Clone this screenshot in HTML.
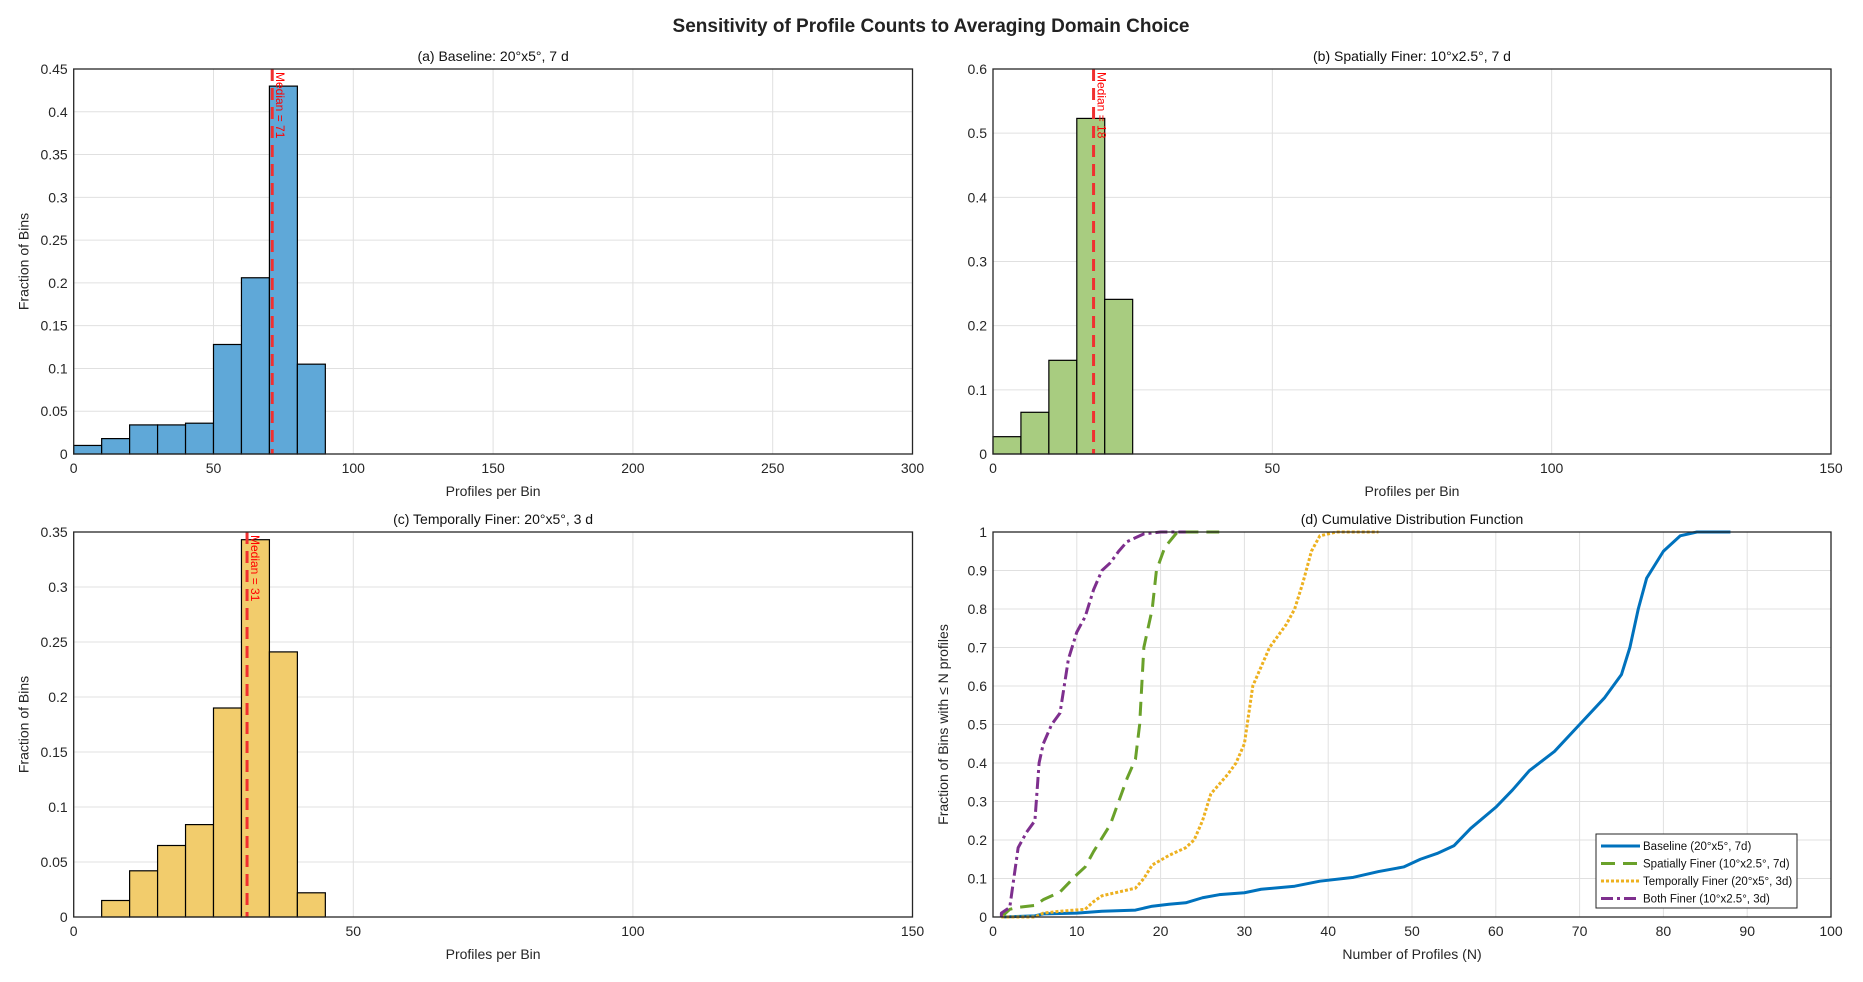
<!DOCTYPE html>
<html><head><meta charset="utf-8"><style>
body{margin:0;background:#fff;}
svg{display:block;font-family:"Liberation Sans",sans-serif;}
</style></head><body>
<svg id="chart" width="1863" height="982" viewBox="0 0 1863 982">
<text x="931" y="32" text-anchor="middle" font-size="19" font-weight="bold" fill="#222">Sensitivity of Profile Counts to Averaging Domain Choice</text>
</svg>
<script>
const aCounts=[0.010,0.018,0.034,0.034,0.036,0.128,0.206,0.430,0.105];
const aEdgeStart=0, aWidth=10, aMedian=71;
const bCounts=[0.027,0.065,0.146,0.523,0.241];
const bEdgeStart=0, bWidth=5, bMedian=18;
const cCounts=[0.015,0.042,0.065,0.084,0.190,0.343,0.241,0.022];
const cEdgeStart=5, cWidth=5, cMedian=31;
const aYTicks=[0,0.05,0.1,0.15,0.2,0.25,0.3,0.35,0.4,0.45];
const bYTicks=[0,0.1,0.2,0.3,0.4,0.5,0.6];
const cYTicks=[0,0.05,0.1,0.15,0.2,0.25,0.3,0.35];
const dYTicks=[0,0.1,0.2,0.3,0.4,0.5,0.6,0.7,0.8,0.9,1];
const aXTicks=[0,50,100,150,200,250,300];
const bXTicks=[0,50,100,150];
const dXTicks=[0,10,20,30,40,50,60,70,80,90,100];
const baseN=[1,5,6,10,13,17,19,21,23,25,27,30,32,36,39,43,46,49,51,53,55,57,60,62,64,67,70,73,75,76,77,78,80,82,84,88];
const baseF=[0,0.003,0.008,0.01,0.015,0.018,0.028,0.033,0.037,0.05,0.058,0.063,0.072,0.08,0.093,0.103,0.118,0.13,0.15,0.165,0.185,0.23,0.285,0.33,0.38,0.43,0.5,0.57,0.63,0.7,0.8,0.88,0.95,0.99,1,1];
const spatN=[1,2,3,5,6,8,10,11,12,14,15,16,17,17.5,18,19,19.5,20.5,22,27];
const spatF=[0,0.02,0.025,0.03,0.045,0.065,0.11,0.13,0.17,0.24,0.3,0.36,0.41,0.5,0.7,0.8,0.9,0.96,1,1];
const tempN=[1,5,6,8,11,12,13,15,17,18,19,21,23,24,25,26,28,29,30,31,32,33,35,36,37,38,39,41,46];
const tempF=[0,0,0.01,0.015,0.02,0.04,0.055,0.065,0.075,0.1,0.135,0.16,0.18,0.2,0.25,0.32,0.37,0.4,0.45,0.6,0.65,0.7,0.76,0.8,0.87,0.95,0.99,1,1];
const bothN=[1,1,2,3,4,5,5.5,6,7,8,9,10,11,12,13,14,15,16,18,20,23];
const bothF=[0,0.01,0.025,0.18,0.22,0.25,0.4,0.45,0.5,0.53,0.67,0.74,0.78,0.85,0.9,0.92,0.95,0.975,0.995,1,1];

const svg=document.getElementById('chart');
const NS='http://www.w3.org/2000/svg';
function mk(tag,attrs,parent){const e=document.createElementNS(NS,tag);for(const k in attrs)e.setAttribute(k,attrs[k]);(parent||svg).appendChild(e);return e;}

function axes(name,L,R,T,B,xmax,ymax,xt,yt,title,xlabel,ylabel){
  const g=mk('g',{});
  
  
  const sx=v=>L+(v/xmax)*(R-L), sy=v=>B-(v/ymax)*(B-T);
  mk('rect',{x:L,y:T,width:R-L,height:B-T,fill:'#fff'},g);
  xt.forEach(v=>{const l=mk('line',{x1:sx(v),x2:sx(v),y1:T,y2:B,stroke:'#e0e0e0','stroke-width':1},g);
    const t=mk('text',{x:sx(v),y:B+19,'text-anchor':'middle','font-size':14,fill:'#262626'},g);t.textContent=v;
    
    });
  yt.forEach(v=>{mk('line',{x1:L,x2:R,y1:sy(v),y2:sy(v),stroke:'#e0e0e0','stroke-width':1},g);
    const t=mk('text',{x:L-6,y:sy(v)+5,'text-anchor':'end','font-size':14,fill:'#262626'},g);t.textContent=v;
    
    });
  const tt=mk('text',{x:(L+R)/2,y:T-8,'text-anchor':'middle','font-size':14,fill:'#111'},g);tt.textContent=title;
  
  
  const xl=mk('text',{x:(L+R)/2,y:B+42,'text-anchor':'middle','font-size':14,fill:'#262626'},g);xl.textContent=xlabel;
  
  
  const yl=mk('text',{x:0,y:0,'text-anchor':'middle','font-size':14,fill:'#262626',transform:`translate(${L-45},${(T+B)/2}) rotate(-90)`},g);yl.textContent=ylabel;
  
  
  return {g,sx,sy,L,R,T,B};
}
function frame(ax){mk('rect',{x:ax.L,y:ax.T,width:ax.R-ax.L,height:ax.B-ax.T,fill:'none',stroke:'#262626','stroke-width':1.3},ax.g);}

function hist(ax,counts,start,w,color,median){
  counts.forEach((c,i)=>{const x0=ax.sx(start+i*w),x1=ax.sx(start+(i+1)*w);
    const r=mk('rect',{x:x0,y:ax.sy(c),width:x1-x0,height:ax.B-ax.sy(c),fill:color,stroke:'#000','stroke-width':1.2},ax.g);
    
    });
  const mx=ax.sx(median);
  const ml=mk('line',{x1:mx,x2:mx,y1:ax.T,y2:ax.B,stroke:'#f03030','stroke-width':3,'stroke-dasharray':'12,7'},ax.g);
  
  
  const mt=mk('text',{x:0,y:0,'font-size':12,fill:'#f00',transform:`translate(${mx+4},${ax.T+3}) rotate(90)`},ax.g);
  mt.textContent='Median = '+median;
  
  
  frame(ax);
}
const a=axes('panel-a',73.7,912.5,69,454,300,0.45,aXTicks,aYTicks,'(a) Baseline: 20°x5°, 7 d','Profiles per Bin','Fraction of Bins');
hist(a,aCounts,aEdgeStart,aWidth,'#5fa8d8',aMedian);
const b=axes('panel-b',993,1831,69,454,150,0.6,bXTicks,bYTicks,'(b) Spatially Finer: 10°x2.5°, 7 d','Profiles per Bin','');
hist(b,bCounts,bEdgeStart,bWidth,'#a8cc80',bMedian);
const c=axes('panel-c',73.7,912.5,532,917,150,0.35,bXTicks,cYTicks,'(c) Temporally Finer: 20°x5°, 3 d','Profiles per Bin','Fraction of Bins');
hist(c,cCounts,cEdgeStart,cWidth,'#f2cc6c',cMedian);
const d=axes('panel-d',993,1831,532,917,100,1,dXTicks,dYTicks,'(d) Cumulative Distribution Function','Number of Profiles (N)','Fraction of Bins with ≤ N profiles');
const series=[[baseN,baseF,'#0072bd','none','baseline-cdf'],[spatN,spatF,'#6aa12a','14,8','spatial-cdf'],[tempN,tempF,'#edb120','3,2','temporal-cdf'],[bothN,bothF,'#7e2f8e','12,4,3,4','both-cdf']];
series.forEach(s=>{const pts=s[0].map((n,i)=>d.sx(n)+','+d.sy(s[1][i])).join(' ');
  const p=mk('polyline',{points:pts,fill:'none',stroke:s[2],'stroke-width':3,'stroke-dasharray':s[3],'stroke-linejoin':'round'},d.g);
  
  });
frame(d);
const lg=mk('g',{});


mk('rect',{x:1596,y:834,width:201,height:74,fill:'#fff',stroke:'#262626','stroke-width':1},lg);
const labels=['Baseline (20°x5°, 7d)','Spatially Finer (10°x2.5°, 7d)','Temporally Finer (20°x5°, 3d)','Both Finer (10°x2.5°, 3d)'];
labels.forEach((t,i)=>{const y=846+i*17.5;
  mk('line',{x1:1601,x2:1640,y1:y,y2:y,stroke:series[i][2],'stroke-width':3,'stroke-dasharray':series[i][3]},lg);
  const tx=mk('text',{x:1643,y:y+4,'font-size':11.5,fill:'#111'},lg);tx.textContent=t;
  
  });
</script>
</body></html>
